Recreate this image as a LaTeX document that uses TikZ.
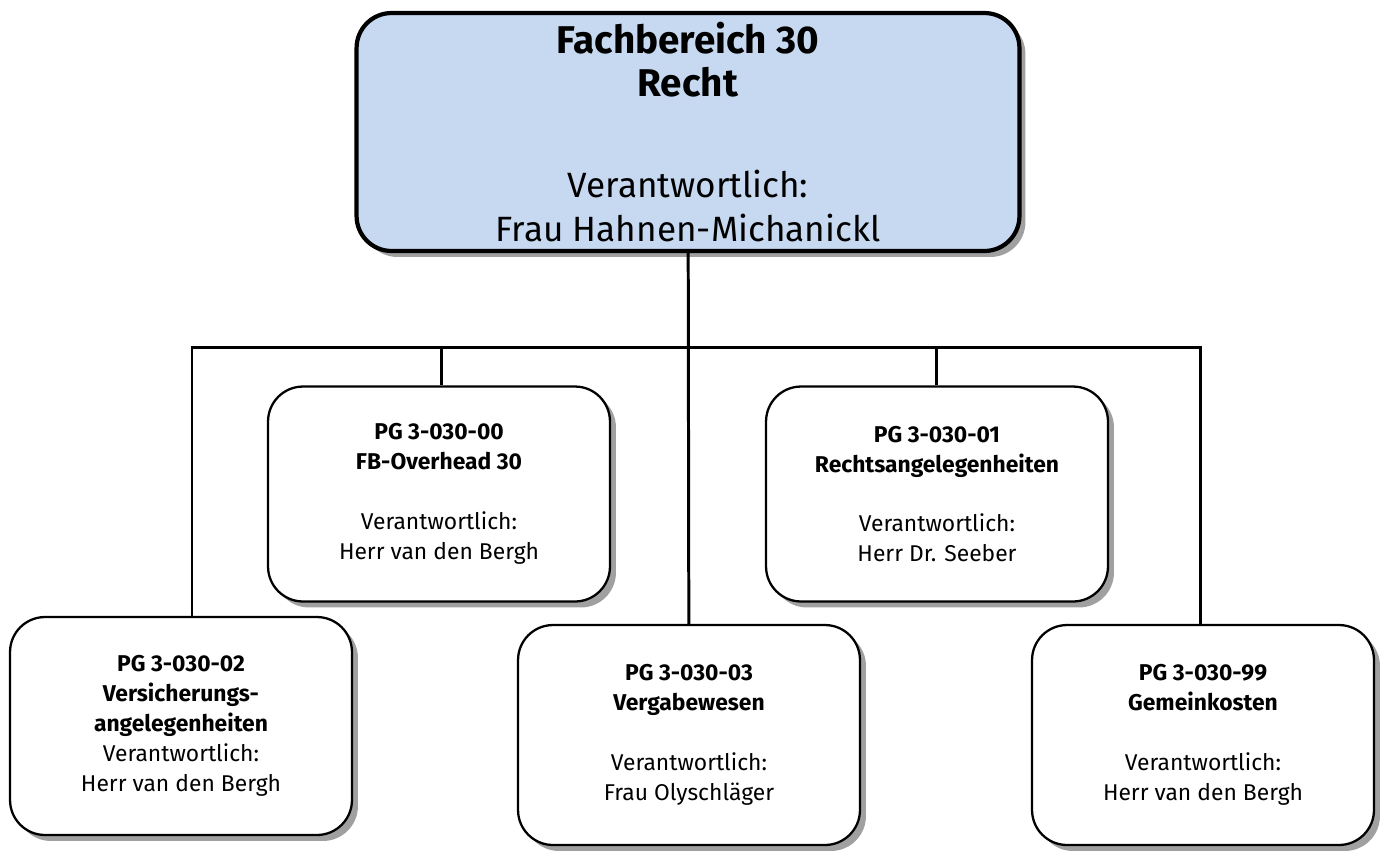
\documentclass[tikz,border=0pt]{standalone}
\usepackage{fontspec}
\setmainfont{Fira Sans}
\usetikzlibrary{positioning,shadows}
\definecolor{FBblue}{HTML}{C6D9F0}

\begin{document}
\begin{tikzpicture}[x=0.02cm,y=-0.02cm,
  chart/.style={rounded corners=0.7cm,align=center,inner sep=0pt,
    drop shadow={shadow xshift=0.12cm,shadow yshift=-0.12cm,opacity=0.75}},
  headbox/.style={chart,draw,line width=2.4pt,fill=FBblue,minimum width=13.26cm,minimum height=4.76cm,
    font=\fontsize{22}{24.5}\selectfont},
  pgbox/.style={chart,draw,line width=1.3pt,fill=white,minimum width=6.84cm,minimum height=4.3cm,
    font=\fontsize{13}{17}\selectfont},
  link/.style={line width=1.7pt}]
  \useasboundingbox (0,0) rectangle (1391,853);
  \node[headbox] (fb) at (688,132) {\textbf{Fachbereich 30}\\\textbf{Recht}\\[33pt]
    {\fontsize{20}{24.5}\selectfont Verantwortlich:}\\{\fontsize{20}{24.5}\selectfont Frau Hahnen-Michanickl}};
  \node[pgbox] (pg00) at (439,494) {\textbf{PG 3-030-00}\\\textbf{FB-Overhead 30}\\[17pt]
    Verantwortlich:\\Herr van den Bergh};
  \node[pgbox] (pg01) at (937,494) {\textbf{PG 3-030-01}\\\textbf{Rechtsangelegenheiten}\\[17pt]
    Verantwortlich:\\Herr Dr. Seeber};
  \node[pgbox,minimum height=4.36cm] (pg02) at (181,726) {\textbf{PG 3-030-02}\\\textbf{Versicherungs-}\\
    \textbf{angelegenheiten}\\Verantwortlich:\\Herr van den Bergh};
  \node[pgbox,minimum height=4.4cm] (pg03) at (689,735) {\textbf{PG 3-030-03}\\\textbf{Vergabewesen}\\[17pt]
    Verantwortlich:\\Frau Olyschläger};
  \node[pgbox,minimum height=4.4cm] (pg99) at (1203,735) {\textbf{PG 3-030-99}\\\textbf{Gemeinkosten}\\[17pt]
    Verantwortlich:\\Herr van den Bergh};
  \coordinate (bus) at (688,347);
  % verbindungen
  \draw[link] (fb) -- (pg03);
  \draw[link] (pg02.north -| 192,0) |- (bus) -| (pg99.north -| 1200,0);
  \draw[link] (pg00.north -| 441,0) -- (bus -| 441,0);
  \draw[link] (pg01.north -| 936,0) -- (bus -| 936,0);
\end{tikzpicture}
\end{document}
